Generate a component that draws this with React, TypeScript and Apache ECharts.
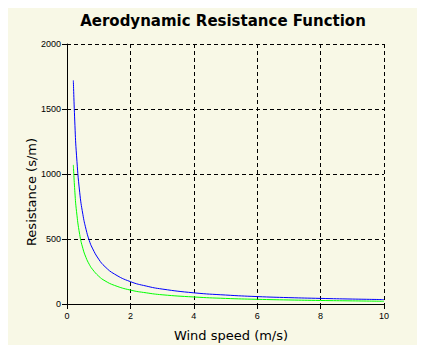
import React, { useEffect, useRef } from "react";
import * as echarts from "echarts";

const windSpeed = [0.2, 0.25, 0.3, 0.4, 0.5, 0.6, 0.7, 0.8, 1, 1.2, 1.5, 2, 2.5, 3, 4, 5, 6, 7, 8, 9, 10];
const blueResistance = [1720, 1375, 1145, 860, 690, 575, 490, 430, 345, 287, 230, 172, 138, 115, 86, 69, 57, 49, 43, 38, 34];
const greenResistance = [1070, 855, 713, 535, 428, 357, 306, 268, 214, 178, 143, 107, 86, 71, 54, 43, 36, 31, 27, 24, 21];

const BG = "#F8F8E6";

export default function App() {
  const ref = useRef<HTMLDivElement>(null);
  useEffect(() => {
    if (!ref.current) return;
    const chart = echarts.init(ref.current, undefined, { renderer: "svg" });
    const font = "'Liberation Sans', Arial, sans-serif";
    const nameFont = "'DejaVu Sans', sans-serif";
    chart.setOption({
      animation: false,
      backgroundColor: BG,
      graphic: [
        {
          type: "text",
          x: 223,
          y: 21,
          style: {
            text: "Aerodynamic Resistance Function",
            fontFamily: nameFont,
            fontWeight: "bold",
            fontSize: 15,
            fill: "#000",
            textAlign: "center",
            textVerticalAlign: "middle",
          },
        },
        {
          type: "text",
          x: 231,
          y: 335,
          style: {
            text: "Wind speed (m/s)",
            fontFamily: nameFont,
            fontSize: 13,
            fill: "#000",
            textAlign: "center",
            textVerticalAlign: "middle",
          },
        },
        {
          type: "text",
          x: 31,
          y: 192,
          rotation: Math.PI / 2,
          style: {
            text: "Resistance (s/m)",
            fontFamily: nameFont,
            fontSize: 13,
            fill: "#000",
            textAlign: "center",
            textVerticalAlign: "middle",
          },
        },
      ],
      grid: { left: 67, right: 41, top: 44, bottom: 49 },
      xAxis: {
        type: "value",
        min: 0,
        max: 10,
        interval: 2,
        axisLine: { show: true, onZero: false, lineStyle: { color: "#000", width: 1 } },
        axisTick: { show: true, length: 5, lineStyle: { color: "#000" } },
        axisLabel: { fontFamily: font, fontSize: 9, color: "#000", margin: 7 },
        splitLine: { show: true, lineStyle: { color: "#000", type: [4, 3], width: 1 } },
      },
      yAxis: {
        type: "value",
        min: 0,
        max: 2000,
        interval: 500,
        axisLine: { show: true, lineStyle: { color: "#000", width: 1 } },
        axisTick: { show: true, length: 5, lineStyle: { color: "#000" } },
        axisLabel: { fontFamily: font, fontSize: 9, color: "#000", margin: 6, formatter: (v: number) => String(v) },
        splitLine: { show: true, lineStyle: { color: "#000", type: [4, 3], width: 1 } },
      },
      series: [
        {
          type: "line",
          data: windSpeed.map((u, i) => [u, blueResistance[i]]),
          showSymbol: false,
          smooth: true,
          lineStyle: { color: "#0000FF", width: 1 },
          z: 3,
        },
        {
          type: "line",
          data: windSpeed.map((u, i) => [u, greenResistance[i]]),
          showSymbol: false,
          smooth: true,
          lineStyle: { color: "#00FF00", width: 1 },
          z: 2,
        },
      ],
    });
    return () => chart.dispose();
  }, []);
  return <div ref={ref} style={{ width: 425, height: 353, margin: -8 }} />;
}
